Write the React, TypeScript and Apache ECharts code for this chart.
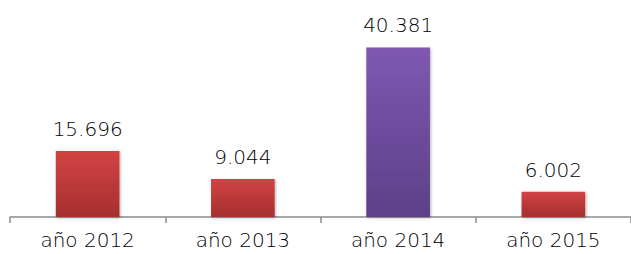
import React, { useEffect, useRef } from "react";
import * as echarts from "echarts";

const categories = ["año 2012", "año 2013", "año 2014", "año 2015"];
const values = [15696, 9044, 40381, 6002];
const highlighted = [false, false, true, false];

const fmt = (v: number) => String(v).replace(/\B(?=(\d{3})+(?!\d))/g, ".");

const FONT = "DejaVu Sans";

export default function App() {
  const ref = useRef<HTMLDivElement>(null);
  useEffect(() => {
    document.body.style.margin = "0";
    const chart = echarts.init(ref.current!, null, { renderer: "svg" });
    const red = new echarts.graphic.LinearGradient(0, 0, 0, 1, [
      { offset: 0, color: "#d24343" },
      { offset: 1, color: "#a52f2f" },
    ]);
    const purple = new echarts.graphic.LinearGradient(0, 0, 0, 1, [
      { offset: 0, color: "#7f58b2" },
      { offset: 1, color: "#5d3f88" },
    ]);
    chart.setOption({
      animation: false,
      grid: { left: 10, right: -1, top: 28, bottom: 37 },
      xAxis: {
        type: "category",
        data: categories,
        axisLine: { lineStyle: { color: "#8c8c8c", width: 1.5 } },
        axisTick: { show: true, length: 6, lineStyle: { color: "#8c8c8c", width: 1.5 } },
        axisLabel: { color: "#000", fontSize: 20, fontFamily: FONT, fontWeight: 200, margin: 13 },
      },
      yAxis: { type: "value", min: 0, max: 45000, show: false, splitLine: { show: false } },
      series: [
        {
          type: "bar",
          barWidth: "41%",
          data: values.map((v, i) => ({
            value: v,
            itemStyle: {
              color: highlighted[i] ? purple : red,
              shadowBlur: 3,
              shadowColor: "rgba(0,0,0,0.3)",
              shadowOffsetX: 1,
              shadowOffsetY: 1,
            },
          })),
          label: {
            show: true,
            position: "top",
            distance: 12,
            color: "#000",
            fontSize: 20,
            fontFamily: FONT,
            fontWeight: 200,
            formatter: (p: any) => fmt(p.value),
          },
        },
      ],
    });
    return () => chart.dispose();
  }, []);
  return <div ref={ref} style={{ position: "absolute", left: 0, top: 0, width: 631, height: 254 }} />;
}
